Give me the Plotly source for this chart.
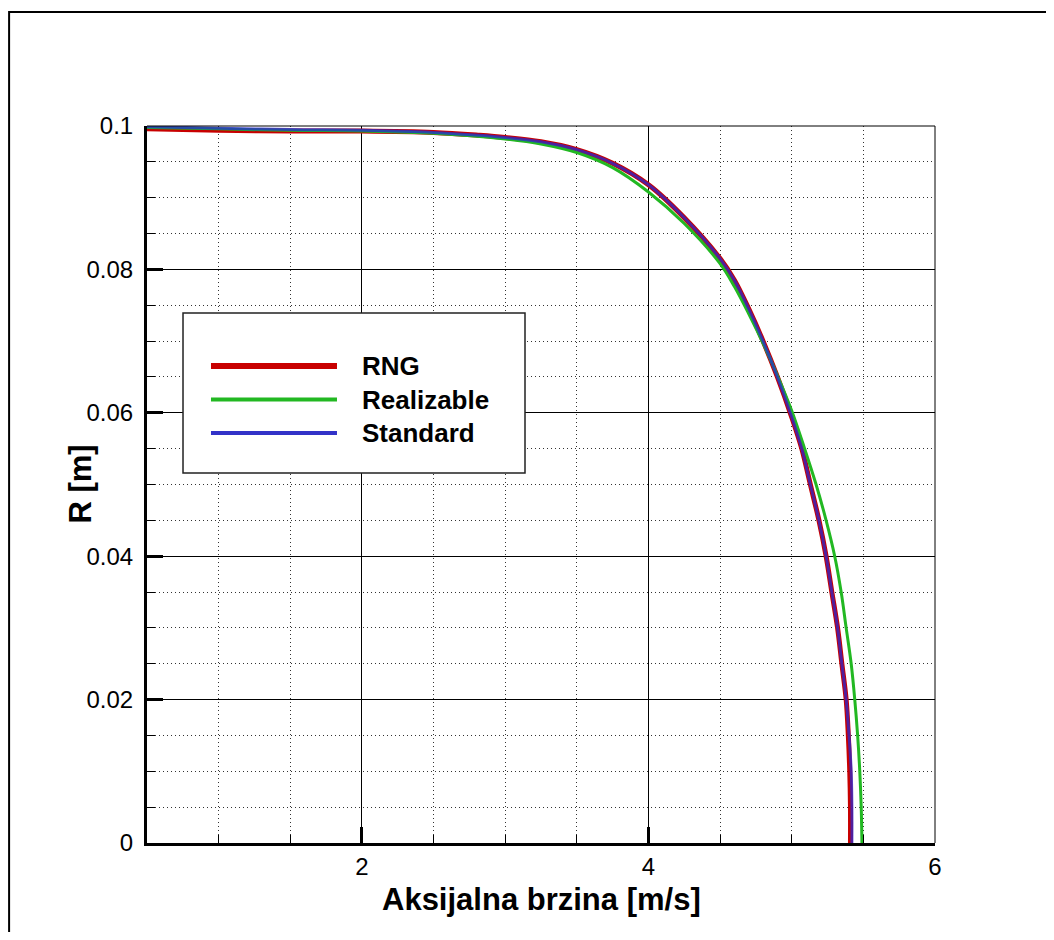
import plotly.graph_objects as go

# --- data: axial velocity [m/s] vs radius [m] ---
rng_v = [0.5, 1.0, 1.5, 2.0, 2.5, 2.82, 3.0, 3.25, 3.5, 3.75, 4.0, 4.25, 4.5, 4.6,
         4.7, 4.8, 4.9, 5.0, 5.07, 5.13, 5.19, 5.24, 5.28, 5.32, 5.35, 5.38,
         5.395, 5.405, 5.41, 5.41]
rng_r = [0.0996, 0.0994, 0.0993, 0.0993, 0.0991, 0.0987, 0.0984, 0.0978, 0.0967, 0.0948,
         0.0918, 0.0872, 0.0815, 0.0785, 0.0745, 0.0700, 0.0650, 0.0594, 0.0550, 0.0500,
         0.0450, 0.0400, 0.0350, 0.0300, 0.0250, 0.0200, 0.0150, 0.0100, 0.0050, 0.0]

real_v = [0.5, 1.0, 1.5, 2.0, 2.5, 3.0, 3.25, 3.5, 3.75, 4.0, 4.25, 4.5, 4.6, 4.7,
          4.8, 4.9, 5.0, 5.09, 5.17, 5.24, 5.30, 5.345, 5.38, 5.415, 5.44, 5.46,
          5.475, 5.485, 5.49]
real_r = [0.0998, 0.0996, 0.0994, 0.0993, 0.0990, 0.0982, 0.0975, 0.0963, 0.0942, 0.0908,
          0.0864, 0.0808, 0.0776, 0.0738, 0.0697, 0.0652, 0.0603, 0.0550, 0.0500, 0.0450,
          0.0400, 0.0350, 0.0300, 0.0250, 0.0200, 0.0150, 0.0100, 0.0050, 0.0]

std_v = [0.5, 1.0, 1.5, 2.0, 2.5, 2.82, 3.0, 3.25, 3.5, 3.75, 4.0, 4.25, 4.5, 4.6,
         4.7, 4.8, 4.9, 5.0, 5.07, 5.13, 5.19, 5.24, 5.28, 5.32, 5.35, 5.38,
         5.40, 5.415, 5.42, 5.42]
std_r = [0.0999, 0.0997, 0.0995, 0.0994, 0.0991, 0.0987, 0.0984, 0.0978, 0.0967, 0.0948,
         0.0918, 0.0872, 0.0815, 0.0785, 0.0745, 0.0700, 0.0650, 0.0594, 0.0550, 0.0500,
         0.0450, 0.0400, 0.0350, 0.0300, 0.0250, 0.0200, 0.0150, 0.0100, 0.0050, 0.0]

names = ['RNG', 'Realizable', 'Standard']
colors = ['#c80000', '#22b822', '#3232c8']
trace_colors = ['#c80000', '#22b822', 'rgba(40,40,210,0.75)']
widths = [5, 3, 3]

x_ticks = [2, 4, 6]
y_ticks = [0, 0.02, 0.04, 0.06, 0.08, 0.1]
y_ticktext = ['0', '0.02', '0.04', '0.06', '0.08', '0.1']

FONT = 'Liberation Sans, Arial, sans-serif'

fig = go.Figure()
for v, r, name, c, w in zip([rng_v, real_v, std_v], [rng_r, real_r, std_r], names, trace_colors, widths):
    fig.add_trace(go.Scatter(x=v, y=r, mode='lines', name=name,
                             line=dict(color=c, width=w, shape='spline', smoothing=1.0),
                             showlegend=False))

fig.update_xaxes(
    range=[0.5, 6], tickvals=x_ticks, ticks='inside', ticklen=16, tickwidth=3, tickcolor='black',
    showline=True, linewidth=3, linecolor='black',
    showgrid=True, gridcolor='black', gridwidth=1,
    tickfont=dict(size=24, family=FONT, color='black'),
    minor=dict(dtick=0.5, tick0=0, ticks='inside', ticklen=8, tickwidth=1, tickcolor='black',
               showgrid=True, gridcolor='#333333', gridwidth=1, griddash='1px,3px'),
    zeroline=False,
)
fig.update_yaxes(
    range=[0, 0.1], tickvals=y_ticks, ticktext=y_ticktext, ticks='inside', ticklen=16, tickwidth=3,
    tickcolor='black', showline=True, linewidth=3, linecolor='black',
    showgrid=True, gridcolor='black', gridwidth=1,
    tickfont=dict(size=24, family=FONT, color='black'), ticklabelstandoff=6,
    minor=dict(dtick=0.005, tick0=0, ticks='inside', ticklen=8, tickwidth=1, tickcolor='black',
               showgrid=True, gridcolor='#333333', gridwidth=1, griddash='1px,3px'),
    zeroline=False,
)

shapes = [
    # thin top/right plot border
    dict(type='line', xref='paper', yref='paper', x0=0, x1=1, y0=1, y1=1, line=dict(color='black', width=1)),
    dict(type='line', xref='paper', yref='paper', x0=1, x1=1, y0=0, y1=1, line=dict(color='black', width=1)),
    # outer frame (left and top edges visible)
    dict(type='rect', xref='paper', yref='paper', x0=-0.175, x1=1.3, y0=-0.3, y1=1.159,
         line=dict(color='black', width=2)),
    # legend box
    dict(type='rect', xref='paper', yref='paper', x0=0.0457, x1=0.4797, y0=0.516, y1=0.7392,
         line=dict(color='#222222', width=1.5), fillcolor='white', layer='above'),
]
annotations = [
    dict(xref='paper', yref='paper', x=0.5, y=-0.079, xanchor='center', yanchor='middle',
         text='<b>Aksijalna brzina [m/s]</b>', showarrow=False,
         font=dict(size=31, family=FONT, color='black')),
    dict(xref='paper', yref='paper', x=-0.085, y=0.5, xanchor='center', yanchor='middle',
         text='<b>R [m]</b>', textangle=-90, showarrow=False,
         font=dict(size=31, family=FONT, color='black')),
]
for i, (name, c, w) in enumerate(zip(names, colors, widths)):
    yy = 0.6653 - i * 0.0468
    shapes.append(dict(type='line', xref='paper', yref='paper', x0=0.0812, x1=0.2411, y0=yy, y1=yy,
                       line=dict(color=c, width=w + 1), layer='above'))
    annotations.append(dict(xref='paper', yref='paper', x=0.2703, y=yy, xanchor='left', yanchor='middle',
                            text=f'<b>{name}</b>', showarrow=False,
                            font=dict(size=26, family=FONT, color='black')))

# page body has an 8px margin, so the figure is sized to fit inside the window
fig.update_layout(
    width=1038, height=924,
    margin=dict(l=139, r=111, t=118, b=89),
    plot_bgcolor='white', paper_bgcolor='white',
    shapes=shapes, annotations=annotations,
    showlegend=False,
)

fig.write_html('out.html')
